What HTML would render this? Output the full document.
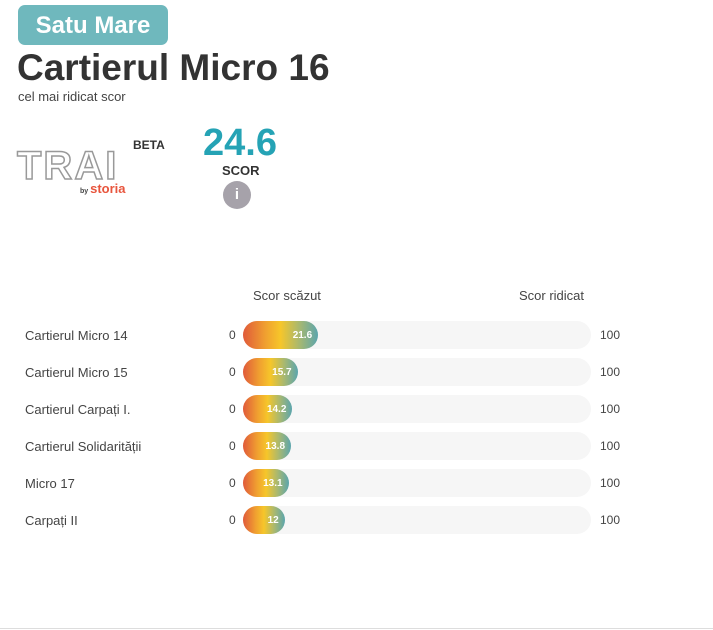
<!DOCTYPE html>
<html><head><meta charset="utf-8"><style>
body{margin:0;width:713px;height:630px;background:#fff;font-family:"Liberation Sans",sans-serif;position:relative;overflow:hidden;color:#333}
.a{position:absolute}
.lbl{font-size:13px;color:#444}
.track{position:absolute;left:243px;width:348px;height:28px;border-radius:14px;background:#f6f6f6}
.fill{position:absolute;left:0;top:0;height:28px;border-radius:14px;background:linear-gradient(90deg,#e05a3a 0%,#f0a030 30%,#f6c62a 50%,#a8b870 75%,#5ba5ad 100%)}
.val{position:absolute;right:6px;top:0;line-height:30px;font-size:10px;font-weight:bold;color:#fff}
</style></head><body>
<div class="a" style="left:18px;top:5px;width:150px;height:40px;background:#6fb8bd;border-radius:7px;color:#fff;font-weight:bold;font-size:24px;line-height:42px;text-align:center">Satu Mare</div>
<div class="a" style="left:17px;top:47px;font-size:37px;font-weight:bold;color:#333">Cartierul Micro 16</div>
<div class="a" style="left:18px;top:89px;font-size:13px;color:#444">cel mai ridicat scor</div>
<div class="a" style="left:17px;top:148px;font-size:40px;font-weight:bold;letter-spacing:2px;color:#fff;-webkit-text-stroke:1.5px #999;line-height:36px">TRAI</div>
<div class="a" style="left:80px;top:181px;font-size:13px;color:#e8553d;font-weight:bold"><span style="font-size:7px;color:#444">by </span>storia</div>
<div class="a" style="left:133px;top:138px;font-size:12px;font-weight:bold;color:#333">BETA</div>
<div class="a" style="left:203px;top:122px;font-size:38px;font-weight:bold;color:#25a3b5">24.6</div>
<div class="a" style="left:222px;top:163px;font-size:13px;font-weight:bold;color:#333">SCOR</div>
<div class="a" style="left:223px;top:181px;width:28px;height:28px;border-radius:50%;background:#a6a2aa;color:#fff;font-weight:bold;font-size:15px;text-align:center;line-height:28px">i</div>
<div class="a lbl" style="left:253px;top:288px">Scor scăzut</div>
<div class="a lbl" style="left:519px;top:288px">Scor ridicat</div>
<div id="rows"></div>
<div class="a" style="left:0;top:628px;width:713px;height:1px;background:#ddd"></div>
<script>
const categories=["Cartierul Micro 14","Cartierul Micro 15","Cartierul Carpați I.","Cartierul Solidarității","Micro 17","Carpați II"];
const scores=[21.6,15.7,14.2,13.8,13.1,12];
const axisMin=[0];
const axisMax=[100];
const rows=document.getElementById('rows');
const trackW=348;
function x(v){return (v-axisMin[0])/(axisMax[0]-axisMin[0])*trackW;}
categories.forEach((c,i)=>{
  const top=321+i*37;
  const l=document.createElement('div');l.className='a lbl';l.style.left='25px';l.style.top=(top+7)+'px';l.textContent=c;
  
  
  rows.appendChild(l);
  const z=document.createElement('div');z.className='a';z.style.cssText='left:229px;top:'+(top+7)+'px;font-size:12px;color:#444';z.textContent=axisMin[0];
  
  
  rows.appendChild(z);
  const t=document.createElement('div');t.className='track';t.style.top=top+'px';
  
  
  const f=document.createElement('div');f.className='fill';f.style.width=Math.max(x(scores[i]),28)+'px';
  
  
  const v=document.createElement('div');v.className='val';v.textContent=scores[i];
  
  
  f.appendChild(v);t.appendChild(f);rows.appendChild(t);
  const m=document.createElement('div');m.className='a';m.style.cssText='left:600px;top:'+(top+7)+'px;font-size:12px;color:#444';m.textContent=axisMax[0];
  
  
  rows.appendChild(m);
});
</script>
</body></html>
